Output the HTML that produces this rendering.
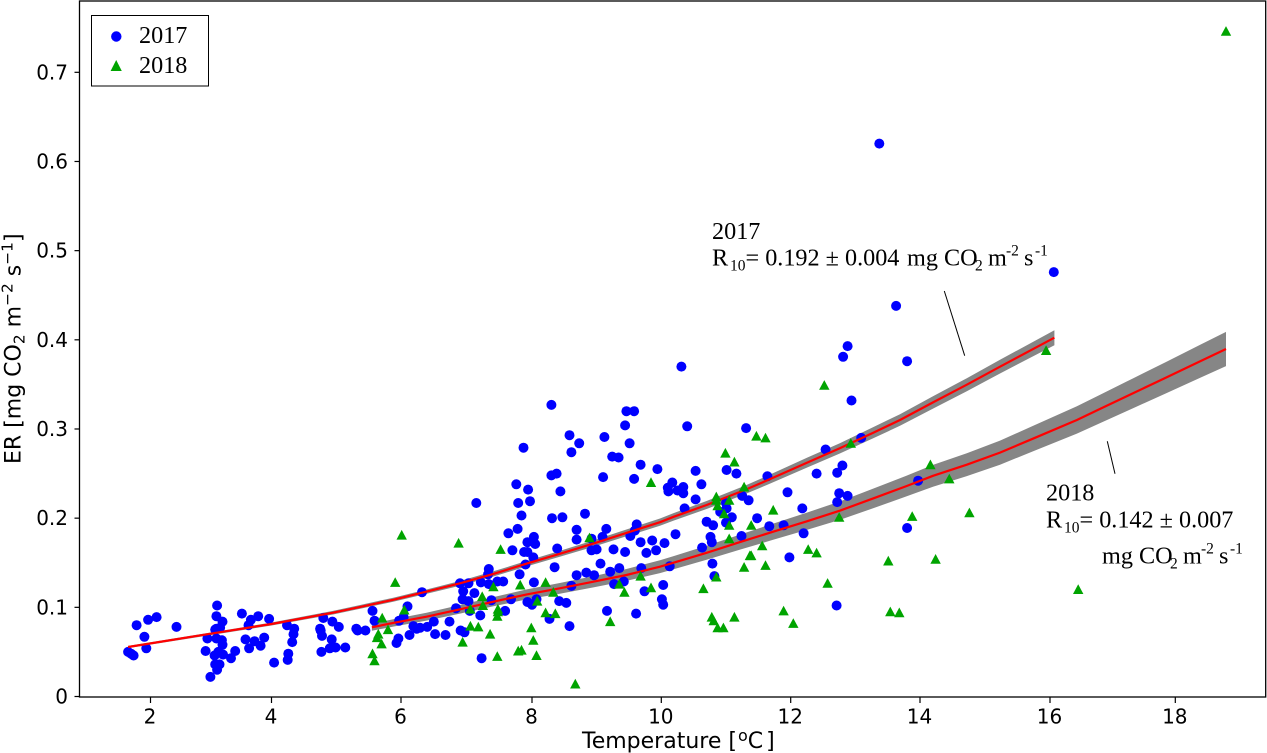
<!DOCTYPE html>
<html lang="en">
<head>
<meta charset="utf-8">
<title>ER vs Temperature</title>
<style>
html,body{margin:0;padding:0;background:#fff;}
svg{display:block;}
text{fill:#000;}
.sans{font-family:"DejaVu Sans",sans-serif;}
.serif{font-family:"Liberation Serif",serif;font-size:24.2px;}
</style>
</head>
<body>
<svg id="chart" xmlns="http://www.w3.org/2000/svg" width="1267" height="753" viewBox="0 0 1267 753">
  <rect x="0" y="0" width="1267" height="753" fill="#fff"/>
  <g id="bands"></g>
  <g id="points2017"></g>
  <g id="lines"></g>
  <g id="points2018"></g>
  <rect x="79.5" y="1" width="1186.2" height="696" fill="none" stroke="#000" stroke-width="1.3"/>
  <g id="xaxis"></g>
  <g id="yaxis"></g>

  <text class="sans" x="582" y="748" font-size="22">Temperature [<tspan font-size="16" dy="-7" dx="1">o</tspan><tspan dy="7">C</tspan><tspan dx="3">]</tspan></text>
  <text class="sans" transform="translate(20.5,464) rotate(-90)" font-size="22">ER [mg CO<tspan font-size="15.4" dy="4">2</tspan><tspan dy="-4"> m</tspan><tspan font-size="15.4" dy="-8">−2</tspan><tspan dy="8"> s</tspan><tspan font-size="15.4" dy="-8">−1</tspan><tspan dy="8">]</tspan></text>

  <g>
    <rect x="91.5" y="15.5" width="117" height="70.5" fill="#fff" stroke="#000" stroke-width="1"/>
    <circle cx="116.3" cy="36.5" r="5.2" fill="#0000ff"/>
    <path d="M116.2 60 L121.8 71 L110.6 71 Z" fill="#00a400"/>
    <text class="serif" x="139" y="43">2017</text>
    <text class="serif" x="139" y="73">2018</text>
  </g>

  <g>
    <text class="serif" x="712" y="239">2017</text>
    <text class="serif" y="265.5"><tspan x="712">R</tspan><tspan x="730" dy="5" font-size="15.5">10</tspan><tspan x="745.5" dy="-5">= 0.192 ± 0.004</tspan><tspan x="907">mg CO</tspan><tspan x="975" dy="5" font-size="15.5">2</tspan><tspan x="988" dy="-5">m</tspan><tspan x="1006" dy="-10" font-size="15.5">-2</tspan><tspan x="1024" dy="10">s</tspan><tspan x="1035" dy="-10" font-size="15.5">-1</tspan></text>
    <line x1="944.3" y1="291" x2="964.7" y2="355.7" stroke="#000" stroke-width="1"/>
  </g>
  <g>
    <text class="serif" x="1046" y="500.5">2018</text>
    <text class="serif" y="527.5"><tspan x="1046">R</tspan><tspan x="1064" dy="5" font-size="15.5">10</tspan><tspan x="1079.5" dy="-5">= 0.142 ± 0.007</tspan></text>
    <text class="serif" y="563.5"><tspan x="1102">mg CO</tspan><tspan x="1170" dy="5" font-size="15.5">2</tspan><tspan x="1183" dy="-5">m</tspan><tspan x="1201" dy="-10" font-size="15.5">-2</tspan><tspan x="1219" dy="10">s</tspan><tspan x="1230" dy="-10" font-size="15.5">-1</tspan></text>
    <line x1="1107.3" y1="441.3" x2="1115" y2="473.7" stroke="#000" stroke-width="1"/>
  </g>
</svg>
<script>
const xTickValues = [2,4,6,8,10,12,14,16,18];
const yTickValues = [0,0.1,0.2,0.3,0.4,0.5,0.6,0.7];
const yTickLabels = ["0","0.1","0.2","0.3","0.4","0.5","0.6","0.7"];

const temps2017 = [1.63,1.68,1.72,1.77,1.90,1.93,1.96,2.10,2.43,2.91,2.94,2.99,3.06,3.07,3.10,3.14,3.10,3.09,3.19,3.07,3.09,3.15,3.09,3.18,3.19,3.12,3.20,3.33,3.40,3.51,3.62,3.66,3.78,3.57,3.63,3.72,3.82,3.88,3.96,4.04,4.24,4.35,4.34,4.32,4.26,4.25,4.77,4.75,4.76,4.78,4.80,4.93,4.90,4.99,4.94,5.04,5.14,5.31,5.33,5.45,5.56,5.59,5.93,5.96,5.97,6.04,6.10,6.13,6.19,6.24,6.32,
7.76,7.94,8.44,7.15,7.79,7.97,7.84,8.31,8.47,8.82,7.78,7.64,8.69,8.03,7.93,8.05,8.69,8.92,9.15,9.09,9.62,9.59,9.52,9.68,9.86,10.05,10.22,7.70,8.39,8.92,9.00,9.26,9.44,9.77,9.92,7.88,7.93,8.02,7.90,9.06,8.35,7.81,7.34,7.33,8.03,8.69,8.84,8.96,9.21,9.35,9.69,7.22,7.34,7.47,7.56,6.90,7.03,6.95,7.12,6.94,7.03,7.38,7.68,8.61,9.27,9.42,10.03,9.74,10.01,10.03,8.42,8.53,6.84,7.05,7.21,7.59,7.93,8.00,8.07,8.27,8.58,9.16,9.61,6.50,6.74,6.40,6.29,6.52,6.68,6.91,6.97,7.23,
10.13,10.79,10.82,10.63,10.76,10.78,10.70,10.80,11.24,11.48,11.67,11.89,12.20,11.98,11.95,12.71,11.00,11.09,10.91,11.00,11.01,10.62,10.10,10.11,10.17,10.25,10.34,10.34,10.53,10.36,11.25,11.35,9.10,9.58,
10.31,8.30,9.46,9.58,9.44,10.40,11.31,8.58,8.73,9.12,9.51,7.87,8.61,9.24,9.34,9.68,9.94,8.30,8.38,10.53,11.01,11.16,11.64,
12.88,12.81,13.80,12.94,13.09,12.54,12.80,12.72,12.40,13.97,12.75,12.88,12.72,12.18,13.80,13.37,16.06,13.63];
const er2017 = [.050,.048,.046,.080,.067,.054,.086,.089,.078,.051,.065,.022,.046,.036,.030,.036,.102,.090,.084,.075,.076,.077,.065,.063,.058,.050,.047,.043,.051,.093,.080,.086,.090,.064,.054,.062,.057,.066,.087,.038,.080,.076,.070,.061,.048,.041,.050,.076,.074,.068,.088,.064,.054,.055,.084,.078,.055,.076,.074,.074,.096,.085,.060,.065,.085,.089,.101,.069,.079,.076,.117,
.238,.232,.230,.217,.217,.219,.203,.200,.201,.205,.188,.183,.187,.179,.173,.171,.176,.177,.188,.179,.193,.186,.180,.173,.175,.172,.182,.164,.166,.164,.165,.165,.162,.161,.164,.162,.162,.156,.148,.149,.145,.137,.143,.137,.128,.136,.139,.136,.140,.144,.144,.128,.126,.129,.129,.127,.127,.118,.116,.109,.107,.108,.109,.124,.126,.129,.125,.118,.109,.103,.107,.105,.099,.096,.091,.096,.106,.103,.109,.087,.079,.096,.093,.084,.084,.078,.077,.070,.069,.074,.072,.043,
.146,.149,.135,.167,.179,.173,.196,.192,.180,.200,.191,.192,.183,.156,.229,.102,.195,.201,.207,.217,.211,.238,.234,.230,.240,.231,.235,.228,.221,.211,.225,.220,.246,.244,
.370,.327,.320,.320,.304,.303,.301,.293,.284,.291,.284,.279,.274,.269,.268,.260,.255,.248,.250,.253,.254,.250,.247,
.393,.381,.376,.332,.290,.277,.259,.251,.250,.242,.228,.225,.218,.211,.189,.620,.476,.438];

const temps2018 = [6.01,5.91,6.05,5.71,5.80,5.65,5.63,5.70,5.56,5.59,
6.88,7.52,8.89,9.84,11.28,10.85,10.85,10.87,11.05,10.97,11.05,11.39,11.73,11.05,11.56,11.39,11.37,11.28,11.61,12.27,12.40,10.85,10.65,12.57,8.21,7.41,7.82,8.33,7.24,7.25,7.06,7.48,7.48,7.47,8.08,8.21,8.36,9.35,9.43,9.68,9.84,9.21,7.06,7.18,7.36,7.99,8.02,6.94,7.79,7.84,7.47,8.07,8.67,10.78,10.81,10.87,10.96,11.13,11.89,12.04,11.47,11.61,10.99,11.13,
15.94,12.52,12.93,14.16,14.45,12.75,13.88,14.76,13.51,14.24,13.54,13.68,16.45,18.81];
const er2018 = [.181,.128,.097,.088,.075,.070,.066,.059,.048,.040,
.172,.165,.178,.240,.235,.224,.220,.214,.220,.205,.192,.192,.209,.177,.169,.158,.158,.145,.147,.165,.161,.134,.121,.127,.128,.123,.125,.117,.112,.102,.098,.098,.095,.090,.107,.094,.093,.126,.117,.135,.122,.084,.079,.078,.070,.077,.063,.061,.051,.052,.045,.046,.014,.089,.085,.077,.077,.089,.096,.082,.292,.290,.273,.263,
.388,.349,.284,.260,.244,.201,.202,.206,.152,.154,.095,.094,.120,.746];

const fit2017Temps = [1.63,2.93,4,4.95,5.37,5.88,6.33,6.9,7.41,7.92,8.43,8.95,9.46,9.98,10.19,10.7,11.29,11.64,12.25,12.76,13.28,13.69,14.2,14.72,15.23,16.07];
const fit2017ER    = [.0555,.0697,.0813,.094,.1005,.1085,.1165,.1269,.1375,.149,.160,.1715,.1835,.1955,.2015,.2148,.2316,.2425,.2622,.2783,.296,.3101,.3298,.3497,.3699,.4024];
const fit2017Upper = [.0567,.0711,.0830,.0960,.1026,.1108,.1189,.1295,.1404,.1521,.1633,.1751,.1873,.1996,.2057,.2193,.2364,.2475,.2677,.2841,.3022,.3166,.3367,.3570,.3776,.4108];
const fit2017Lower = [.0543,.0682,.0796,.0920,.0984,.1062,.1141,.1243,.1346,.1459,.1567,.1679,.1797,.1914,.1973,.2103,.2268,.2375,.2567,.2725,.2898,.3036,.3229,.3424,.3622,.3940];

const fit2018Temps = [5.55,5.88,6.39,6.9,7.41,7.92,8.43,8.95,9.46,9.98,10.19,10.7,11.21,11.73,12.25,12.76,13.28,13.79,14.2,14.72,15.23,15.75,16.43,16.8,17.33,17.86,18.39,18.81];
const fit2018ER    = [.0776,.0825,.0895,.0978,.1063,.1145,.1213,.1287,.1363,.1456,.1500,.1612,.1730,.1848,.1965,.2084,.2223,.2360,.2475,.2600,.2735,.2896,.3101,.3225,.3402,.3579,.3757,.3897];
const fit2018Upper = [.0814,.0866,.0939,.1026,.1115,.1201,.1273,.1350,.1430,.1528,.1574,.1691,.1815,.1939,.2062,.2187,.2333,.2476,.2597,.2728,.2870,.3039,.3254,.3384,.3570,.3755,.3942,.4089];
const fit2018Lower = [.0738,.0784,.0851,.0930,.1011,.1089,.1153,.1224,.1296,.1384,.1426,.1533,.1645,.1757,.1868,.1981,.2113,.2244,.2353,.2472,.2600,.2753,.2948,.3066,.3234,.3403,.3572,.3705];

const SVGNS = "http://www.w3.org/2000/svg";

function xScale(t){
  const k = [[2,150.5],[4,271.5],[6,401],[8,532],[10,661.3],[12,790.7],[14,920],[16,1050],[18,1175.3]];
  let i = 0;
  while(i < k.length - 2 && t > k[i+1][0]) i++;
  const a = k[i], b = k[i+1];
  return a[1] + (t - a[0]) * (b[1] - a[1]) / (b[0] - a[0]);
}
function yScale(v){ return 696.5 - 891.7 * v; }

function make(tag, attrs, parent){
  const el = document.createElementNS(SVGNS, tag);
  for(const key in attrs) el.setAttribute(key, attrs[key]);
  parent.appendChild(el);
  return el;
}

const xAxisG = document.getElementById("xaxis");
xTickValues.forEach(function(t){
  const px = xScale(t);
  const tick = make("line", {x1:px, x2:px, y1:697, y2:703, stroke:"#000", "stroke-width":1.2}, xAxisG);
  
  
  const label = make("text", {x:px - 0.5, y:723.5, "text-anchor":"middle", "font-size":20, "class":"sans"}, xAxisG);
  
  
  label.textContent = String(t);
});

const yAxisG = document.getElementById("yaxis");
yTickValues.forEach(function(v, i){
  const py = yScale(v);
  const tick = make("line", {x1:74.5, x2:79.5, y1:py, y2:py, stroke:"#000", "stroke-width":1.2}, yAxisG);
  
  
  const label = make("text", {x:68, y:py + 7, "text-anchor":"end", "font-size":20, "class":"sans"}, yAxisG);
  
  
  label.textContent = yTickLabels[i];
});

function linePoints(ts, vs){
  return ts.map(function(t, i){ return xScale(t).toFixed(1) + "," + yScale(vs[i]).toFixed(1); });
}

const bandsG = document.getElementById("bands");
const band2017 = make("polygon", {points: linePoints(fit2017Temps, fit2017Upper).concat(linePoints(fit2017Temps, fit2017Lower).reverse()).join(" "), fill:"#868686"}, bandsG);


const band2018 = make("polygon", {points: linePoints(fit2018Temps, fit2018Upper).concat(linePoints(fit2018Temps, fit2018Lower).reverse()).join(" "), fill:"#868686"}, bandsG);



const linesG = document.getElementById("lines");
const line2017 = make("polyline", {points: linePoints(fit2017Temps, fit2017ER).join(" "), fill:"none", stroke:"#ff0000", "stroke-width":2.2, "stroke-linejoin":"round"}, linesG);


const line2018 = make("polyline", {points: linePoints(fit2018Temps, fit2018ER).join(" "), fill:"none", stroke:"#ff0000", "stroke-width":2.2, "stroke-linejoin":"round"}, linesG);



const pts2017G = document.getElementById("points2017");
temps2017.forEach(function(t, i){
  const c = make("circle", {cx:xScale(t).toFixed(1), cy:yScale(er2017[i]).toFixed(1), r:5, fill:"#0000ff"}, pts2017G);
  
  
});

const pts2018G = document.getElementById("points2018");
temps2018.forEach(function(t, i){
  const cx = xScale(t), cy = yScale(er2018[i]);
  const d = "M" + cx.toFixed(1) + " " + (cy - 5.2).toFixed(1) + " L" + (cx + 5.2).toFixed(1) + " " + (cy + 4.5).toFixed(1) + " L" + (cx - 5.2).toFixed(1) + " " + (cy + 4.5).toFixed(1) + " Z";
  const p = make("path", {d:d, fill:"#00a400"}, pts2018G);
  
  
});
</script>
</body>
</html>
